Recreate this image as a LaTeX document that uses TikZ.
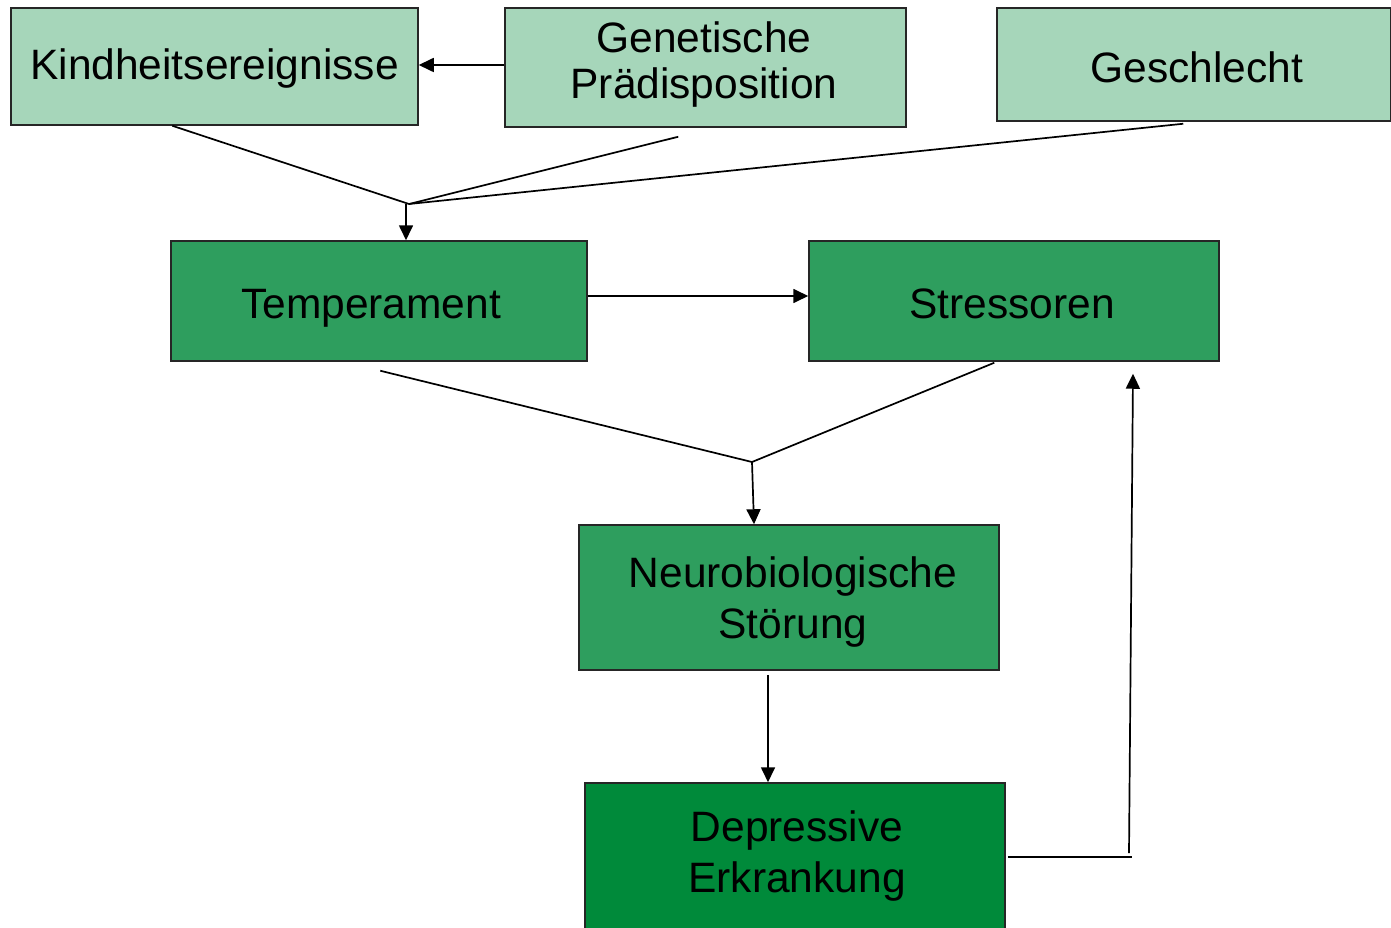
\documentclass[tikz,border=0pt]{standalone}
\usepackage{fontspec}
\setmainfont{Liberation Sans}
\usetikzlibrary{arrows.meta,calc}
\definecolor{lightg}{RGB}{166,214,186}
\definecolor{midg}{RGB}{46,158,94}
\definecolor{darkg}{RGB}{0,138,58}
\tikzset{
  box/.style={draw=black!85, line width=1.5pt, rectangle, inner sep=0pt},
  txt/.style={inner sep=0pt, align=center, font=\fontsize{42.5}{50}\selectfont},
  conn/.style={line width=1.7pt, draw=black},
  arr/.style={conn, -{Triangle[length=15pt,width=14pt]}},
}
\begin{document}
\begin{tikzpicture}[x=1pt,y=-1pt]
\useasboundingbox (0,0) rectangle (1391,928);
\clip (0,0) rectangle (1391,928);
\node[box, fill=lightg, minimum width=407pt, minimum height=117pt] (kind) at (214.5,66.5) {};
\node[box, fill=lightg, minimum width=401pt, minimum height=119pt] (gen) at (705.5,67.5) {};
\node[box, fill=lightg, minimum width=394pt, minimum height=113pt] (ges) at (1194,64.5) {};
\node[box, fill=midg, minimum width=416pt, minimum height=120pt] (temp) at (379,301) {};
\node[box, fill=midg, minimum width=410pt, minimum height=120pt] (stress) at (1014,301) {};
\node[box, fill=midg, minimum width=420pt, minimum height=145pt] (neuro) at (789,597.5) {};
\node[box, fill=darkg, minimum width=420pt, minimum height=160pt] (dep) at (795,863) {};

\node[txt] (kindtext) at (214.5,68.5) {Kindheitsereignisse};
\node[txt, font=\fontsize{42.5}{46}\selectfont] (gentext) at (704,65) {Genetische\\Prädisposition};
\node[txt] (gestext) at (1197,67.5) {Geschlecht};
\node[txt] (temptext) at (371,308) {Temperament};
\node[txt] (stresstext) at (1012,304) {Stressoren};
\node[txt, font=\fontsize{42.5}{51}\selectfont] (neurotext) at (793,602) {Neurobiologische\\Störung};
\node[txt, font=\fontsize{42.5}{51}\selectfont] (deptext) at (797,856.5) {Depressive\\Erkrankung};

% Genetische -> Kindheitsereignisse
\draw[arr] (gen.west |- 0,65) -- (kind.east |- 0,65);

% junction 1
\coordinate (j1) at (409,204);
\draw[conn] ($(kind.south west)+(162,0)$) -- (j1);
\draw[conn] ($(gen.south west)+(174,9)$) -- (j1);
\draw[conn] ($(ges.south west)+(187,2)$) -- (j1);
\draw[arr] (406,204) -- (temp.north -| 406,0);

% Temperament -> Stressoren
\draw[arr] (temp.east |- 0,296) -- (stress.west |- 0,296);

% junction 2
\coordinate (j2) at (752,462);
\draw[conn] ($(temp.south west)+(210,9)$) -- (j2);
\draw[conn] ($(stress.south west)+(186,1)$) -- (j2);
\draw[arr] (j2) -- (neuro.north -| 754,0);

% Neuro -> Depressive
\draw[arr] ($(neuro.south -| 768,0)+(0,4)$) -- (dep.north -| 768,0);

% Depressive -> Stressoren feedback
\coordinate (c1) at (1132,857);
\draw[conn] ($(dep.east |- c1)+(2,0)$) -- (c1);
\draw[arr] (1129,853) -- ($(stress.south -| 1133,0)+(0,12)$);
\end{tikzpicture}
\end{document}
